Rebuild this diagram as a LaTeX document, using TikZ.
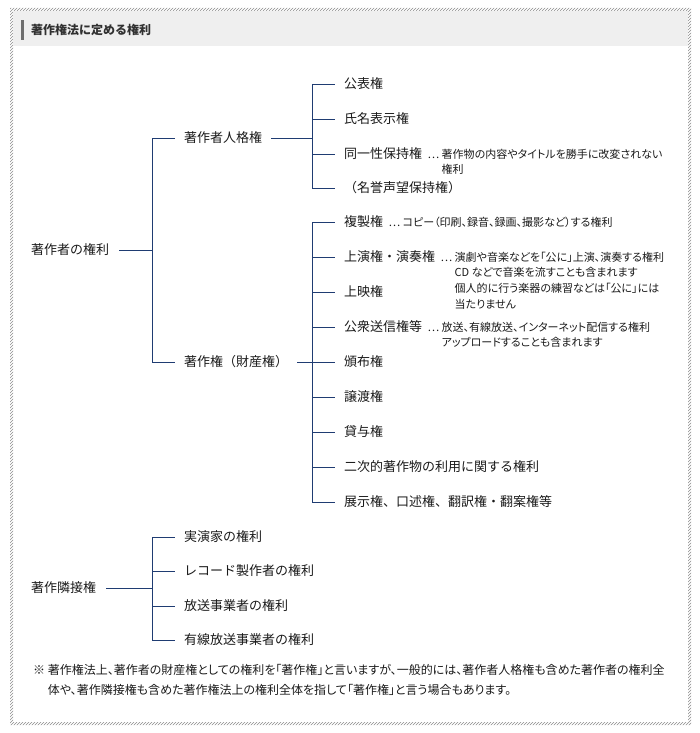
\documentclass[tikz,border=0pt]{standalone}
\usepackage{fontspec}
\setmainfont{Noto Sans CJK JP}
\newfontfamily\pfont{Noto Sans CJK JP}[RawFeature=+palt]
\usetikzlibrary{positioning,patterns}
\definecolor{navy}{HTML}{1F3C72}
\definecolor{ink}{HTML}{1A1A1A}
\definecolor{band}{HTML}{EFEFEF}
\definecolor{rim}{HTML}{8C8C8C}
\definecolor{barcol}{HTML}{6E6E6E}
\tikzset{
  lbl/.style={anchor=west,inner sep=1pt,text=ink,font=\fontsize{13}{15}\selectfont},
  note/.style={anchor=west,inner sep=1pt,text=ink,align=left,font=\pfont\fontsize{11}{15.7}\selectfont},
  tree/.style={navy,line width=0.9pt},
}
% child label hanging off a junction: junction, name, y, text
\newcommand{\br}[4]{%
  \path (#1 |- 0,#3) ++(31,0) node[lbl] (#2) {#4};
  \draw[tree] (#1 |- #2.west) -- ([xshift=-8pt]#2.west);}
% note after a label: label, name, yshift, text
\newcommand{\nt}[4]{\node[note] (#2) at ([xshift=3pt,yshift=#3]#1.east) {#4};}

\begin{document}
\begin{tikzpicture}[x=1pt,y=-1pt]
\useasboundingbox (0,0) rectangle (700,733);
% frame and heading
\fill[pattern=north east lines,pattern color=rim,even odd rule]
  (10,8) rectangle (691,725) (13,11) rectangle (688,722);
\fill[band] (13,11) rectangle (688,46);
\fill[barcol] (21,20) rectangle (24,40);
\node[anchor=west,inner sep=0pt,text=ink!90,font=\bfseries\fontsize{12}{14}\selectfont] (title) at (31,30) {著作権法に定める権利};

% 著作者の権利
\node[lbl] (author) at (30,250) {著作者の権利};
\coordinate (jA) at (152,250);
\draw[tree] ([xshift=9pt]author.east) -- (jA);
\br{jA}{moral}{138}{著作者人格権}
\br{jA}{econ}{362}{著作権（財産権）}
\draw[tree] (jA |- moral.west) -- (jA |- econ.west);

\coordinate (jB) at (312,138);
\draw[tree] ([xshift=8pt]moral.east) -- (jB);
\br{jB}{pub}{84}{公表権}
\br{jB}{name}{119}{氏名表示権}
\br{jB}{integ}{154}{同一性保持権}
\br{jB}{honor}{188}{（名誉声望保持権）}
\draw[tree] (jB |- pub.west) -- (jB |- honor.west);
\nt{integ}{nInteg}{-7.85pt}{…\ 著作物の内容やタイトルを勝手に改変されない\\\phantom{…}\ 権利}

\coordinate (jC) at (312,362);
\draw[tree] ([xshift=8pt]econ.east) -- (jC);
\br{jC}{repro}{222}{複製権}
\br{jC}{perf}{257}{上演権・演奏権}
\br{jC}{screen}{292}{上映権}
\br{jC}{trans}{327}{公衆送信権等}
\br{jC}{distr}{362}{頒布権}
\br{jC}{assign}{397}{譲渡権}
\br{jC}{lend}{432}{貸与権}
\br{jC}{deriv}{467}{二次的著作物の利用に関する権利}
\br{jC}{misc}{502}{展示権、口述権、翻訳権・翻案権等}
\draw[tree] (jC |- repro.west) -- (jC |- misc.west);
\nt{repro}{nRepro}{0pt}{…\ コピー（印刷、録音、録画、撮影など）する権利}
\nt{perf}{nPerf}{-23.55pt}{…\ 演劇や音楽などを「公に」上演、演奏する権利\\\phantom{…}\ CD などで音楽を流すことも含まれます\\\phantom{…}\ 個人的に行う楽器の練習などは「公に」には\\\phantom{…}\ 当たりません}
\nt{trans}{nTrans}{-7.85pt}{…\ 放送、有線放送、インターネット配信する権利\\\phantom{…}\ アップロードすることも含まれます}

% 著作隣接権
\node[lbl] (neigh) at (30,588) {著作隣接権};
\coordinate (jD) at (152,588);
\draw[tree] ([xshift=9pt]neigh.east) -- (jD);
\br{jD}{player}{537}{実演家の権利}
\br{jD}{record}{571}{レコード製作者の権利}
\br{jD}{bcast}{606}{放送事業者の権利}
\br{jD}{cable}{640}{有線放送事業者の権利}
\draw[tree] (jD |- player.west) -- (jD |- cable.west);

% footnote
\node[note,font=\pfont\fontsize{12}{20}\selectfont] (foot) at (32,680) {※\ 著作権法上、著作者の財産権としての権利を「著作権」と言いますが、一般的には、著作者人格権も含めた著作者の権利全\\\phantom{※}\ 体や、著作隣接権も含めた著作権法上の権利全体を指して「著作権」と言う場合もあります。};
\end{tikzpicture}
\end{document}
